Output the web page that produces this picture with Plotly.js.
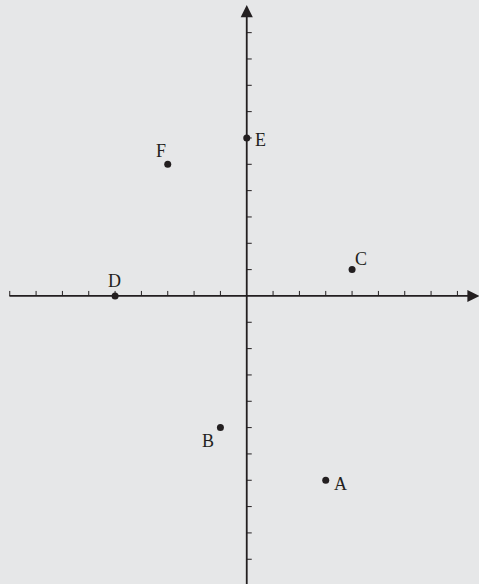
<!DOCTYPE html>
<html>
<head>
<meta charset="utf-8">
<script src="https://cdn.plot.ly/plotly-3.0.1.min.js"></script>
<style>html,body{margin:0;padding:0;background:#e6e7e8;}#chart{width:479px;height:584px;}</style>
</head>
<body>
<div id="chart"></div>
<script>
// Data
const pointNames = ['A', 'B', 'C', 'D', 'E', 'F'];
const pointX = [3, -1, 4, -5, 0, -3];
const pointY = [-7, -5, 1, 0, 6, 5];
const xTickValues = [-9, -8, -7, -6, -5, -4, -3, -2, -1, 1, 2, 3, 4, 5, 6, 7, 8];
const yTickValues = [-10, -9, -8, -7, -6, -5, -4, -3, -2, -1, 1, 2, 3, 4, 5, 6, 7, 8, 9, 10];

// Style (label pixel offsets)
const labelDX = [15, -12, 9, -1, 14, -7];
const labelDY = [-4, -13, 11, 15, -2, 13];
const ink = '#231f20';
const bg = '#e6e7e8';

const shapes = [];
xTickValues.forEach(v => shapes.push({
  type: 'line', xref: 'x', yref: 'y', ysizemode: 'pixel', yanchor: 0,
  x0: v, x1: v, y0: 0, y1: 5, line: {color: ink, width: 1}
}));
yTickValues.forEach(v => shapes.push({
  type: 'line', xref: 'x', yref: 'y', xsizemode: 'pixel', xanchor: 0,
  x0: 0, x1: 5, y0: v, y1: v, line: {color: ink, width: 1}
}));

const annotations = [
  {x: 8.84, y: 0, ax: -9.07, ay: 0, xref: 'x', yref: 'y', axref: 'x', ayref: 'y',
   showarrow: true, arrowhead: 2, arrowsize: 1.35, arrowwidth: 1.8, arrowcolor: ink, text: ''},
  {x: 0, y: 11.05, ax: 0, ay: -11.5, xref: 'x', yref: 'y', axref: 'x', ayref: 'y',
   showarrow: true, arrowhead: 2, arrowsize: 1.35, arrowwidth: 1.8, arrowcolor: ink, text: ''}
];
pointNames.forEach((n, i) => annotations.push({
  x: pointX[i], y: pointY[i], xref: 'x', yref: 'y', text: n, showarrow: false,
  xshift: labelDX[i], yshift: labelDY[i],
  font: {family: 'Liberation Serif, Times New Roman, serif', size: 18, color: ink}
}));

const trace = {
  x: pointX, y: pointY, mode: 'markers', type: 'scatter',
  marker: {color: ink, size: 7}, hoverinfo: 'skip'
};

const layout = {
  width: 479, height: 584,
  margin: {l: 0, r: 0, t: 0, b: 0},
  paper_bgcolor: bg, plot_bgcolor: bg,
  showlegend: false,
  xaxis: {range: [-9.37, 8.82], visible: false, fixedrange: true},
  yaxis: {range: [-10.94, 11.24], visible: false, fixedrange: true},
  shapes: shapes,
  annotations: annotations
};

Plotly.newPlot('chart', [trace], layout, {staticPlot: true, displayModeBar: false});
</script>
</body>
</html>
